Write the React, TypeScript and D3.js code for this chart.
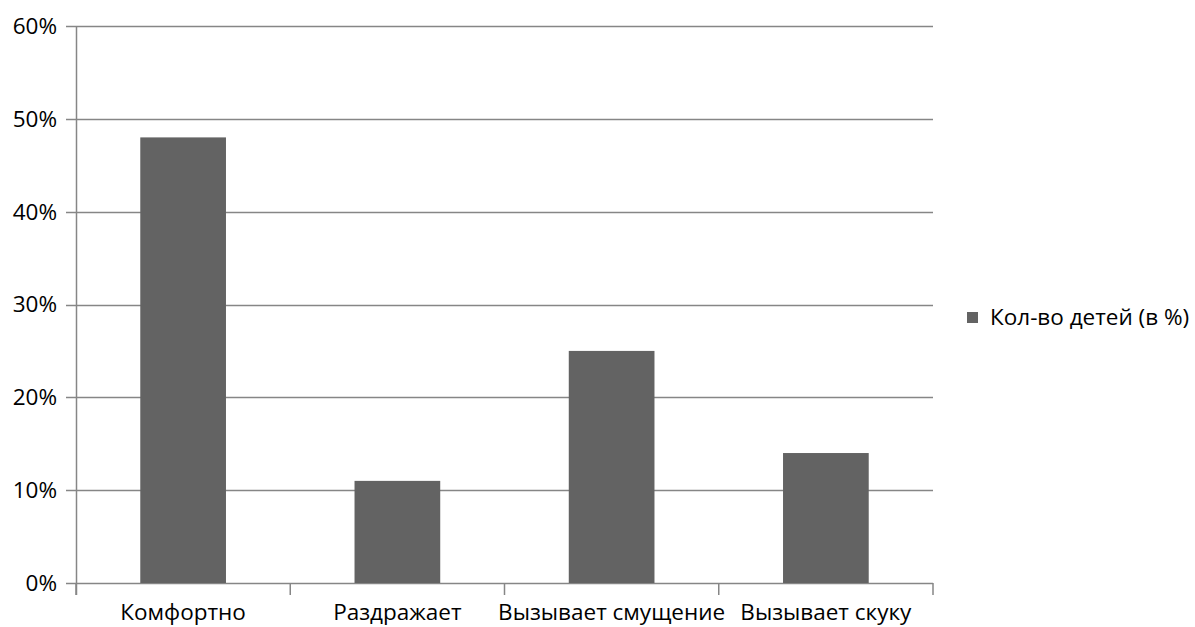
import React from "react";
import * as d3 from "d3";

const categories = ["Комфортно", "Раздражает", "Вызывает смущение", "Вызывает скуку"];
const values = [48, 11, 25, 14];
const yTicks = [0, 10, 20, 30, 40, 50, 60];
const seriesName = "Кол-во детей (в %)";

export default function App() {
  const W = 1195, H = 627;
  const left = 76, right = 933, top = 26, bottom = 583;
  const x = d3.scaleBand<string>().domain(categories).range([left, right]).paddingInner(0.6).paddingOuter(0.3);
  const y = d3.scaleLinear().domain([0, 60]).range([bottom, top]);
  const step = x.step();
  const font = "'Open Sans', 'Noto Sans', sans-serif";
  const grid = "#868686";
  const fs = 22.5;
  return (
    <svg width={W} height={H} style={{ position: "absolute", left: 0, top: 0 }} fontFamily={font}>
      <rect width={W} height={H} fill="#fff" />
      {yTicks.map((t) => (
        <g key={t}>
          <line x1={left - 10} x2={right} y1={Math.round(y(t)) + 0.5} y2={Math.round(y(t)) + 0.5} stroke={grid} strokeWidth={1.5} />
          <text x={57} y={y(t)} dy="0.35em" textAnchor="end" fontSize={fs} fill="#000">{t}%</text>
        </g>
      ))}
      <line x1={left + 0.5} x2={left + 0.5} y1={top} y2={bottom + 12} stroke={grid} strokeWidth={1.5} />
      {d3.range(categories.length + 1).map((i) => (
        <line key={i} x1={left + i * step} x2={left + i * step} y1={bottom} y2={bottom + 12} stroke={grid} strokeWidth={1.5} />
      ))}
      {categories.map((c, i) => (
        <rect key={c} x={x(c)} y={y(values[i])} width={x.bandwidth()} height={bottom - y(values[i])} fill="#636363" />
      ))}
      {categories.map((c) => (
        <text key={c} x={(x(c) as number) + x.bandwidth() / 2} y={620} textAnchor="middle" fontSize={fs} fill="#000">{c}</text>
      ))}
      <rect x={967} y={312} width={11} height={11} fill="#636363" />
      <text x={990} y={317} dy="0.35em" fontSize={fs} fill="#000">{seriesName}</text>
    </svg>
  );
}
